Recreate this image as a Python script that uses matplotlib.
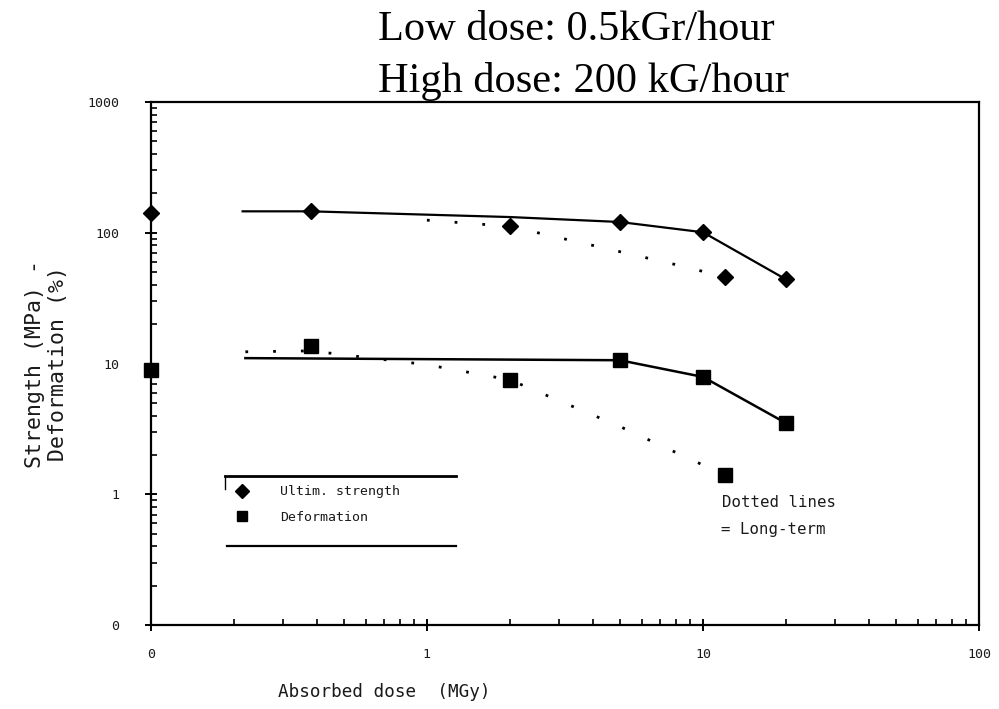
import matplotlib
matplotlib.use("Agg")
import matplotlib.pyplot as plt
from matplotlib.lines import Line2D
from matplotlib.ticker import FixedLocator, LogLocator, NullFormatter

# measured points (dose in MGy)
dose = [0.1, 0.38, 2, 5, 10, 12, 20]
strength = [142, 147, 112, 121, 101, 46, 44]
deformation = [8.9, 13.6, 7.5, 10.6, 7.9, 1.4, 3.5]

# hand drawn trend lines
strength_fit_x = [0.215, 0.38, 2, 5, 10, 20]
strength_fit_y = [146, 146, 132, 121, 101, 44]
strength_long_x = [1, 2, 4, 8, 12]
strength_long_y = [125, 112, 80, 57, 46]

deform_fit_x = [0.22, 5, 10, 20]
deform_fit_y = [11.0, 10.6, 7.9, 3.5]
deform_long_x = [0.22, 0.38, 1, 2, 5, 12]
deform_long_y = [12.3, 12.5, 9.8, 7.5, 3.3, 1.4]

xticks = [0.1, 1, 10, 100]
xticklabels = ["0", "1", "10", "100"]
yticks = [0.1, 1, 10, 100, 1000]
yticklabels = ["0", "1", "10", "100", "1000"]

mono = "DejaVu Sans Mono"
ink = "#1a1a1a"

fig = plt.figure(figsize=(9.99, 7.09), dpi=100)
ax = fig.add_axes([0.151, 0.1185, 0.829, 0.7375])
ax.set_xscale("log")
ax.set_yscale("log")
ax.set_xlim(0.1, 100)
ax.set_ylim(0.1, 1000)

ax.plot(strength_fit_x, strength_fit_y, color="black", lw=1.6)
ax.plot(strength_long_x, strength_long_y, color="black", lw=2,
        linestyle=(0, (1, 9)))
ax.plot(deform_fit_x, deform_fit_y, color="black", lw=1.8)
ax.plot(deform_long_x, deform_long_y, color="black", lw=2,
        linestyle=(0, (1, 9)))

ax.plot(dose, strength, linestyle="none", marker="D", ms=8, color="black",
        clip_on=False, zorder=5)
ax.plot(dose, deformation, linestyle="none", marker="s", ms=10, color="black",
        clip_on=False, zorder=5)

for s in ax.spines.values():
    s.set_linewidth(1.6)
    s.set_color("black")

ax.xaxis.set_major_locator(FixedLocator(xticks))
ax.set_xticklabels(xticklabels)
ax.yaxis.set_major_locator(FixedLocator(yticks))
ax.set_yticklabels(yticklabels)
ax.xaxis.set_minor_locator(LogLocator(base=10, subs=range(2, 10)))
ax.yaxis.set_minor_locator(LogLocator(base=10, subs=range(2, 10)))
ax.xaxis.set_minor_formatter(NullFormatter())
ax.yaxis.set_minor_formatter(NullFormatter())
ax.tick_params(which="major", direction="inout", length=9, width=1.4,
               labelsize=9.5, labelcolor=ink, top=False, right=False)
ax.tick_params(axis="y", which="major", pad=18)
ax.tick_params(axis="x", which="major", pad=12)
ax.tick_params(which="minor", direction="in", length=4, width=1.2,
               top=False, right=False)
for lab in ax.get_xticklabels() + ax.get_yticklabels():
    lab.set_family(mono)

ax.set_ylabel("Strength (MPa) -\nDeformation (%)", family=mono, fontsize=15.5,
              color=ink, linespacing=1.2)
ax.yaxis.set_label_coords(-0.1, 0.5)
fig.text(0.385, 0.024, "Absorbed dose  (MGy)", family=mono, fontsize=12.7,
         color=ink, ha="center", va="center")

# legend box
handles = [
    Line2D([], [], linestyle="none", marker="D", ms=7, color="black"),
    Line2D([], [], linestyle="none", marker="s", ms=7, color="black"),
]
leg = ax.legend(handles, ["Ultim. strength", "Deformation"],
                loc="upper left", bbox_to_anchor=(0.08, 0.29),
                frameon=False, handletextpad=1.9, labelspacing=0.95,
                prop={"family": mono, "size": 9.5})
for t in leg.get_texts():
    t.set_color(ink)
ax.plot([0.09, 0.368], [0.285, 0.285], transform=ax.transAxes,
        color="black", lw=2)
ax.plot([0.09, 0.09], [0.285, 0.26], transform=ax.transAxes,
        color="black", lw=1)
ax.plot([0.092, 0.368], [0.151, 0.151], transform=ax.transAxes,
        color="black", lw=1.6)

ax.text(0.69, 0.235, "Dotted lines", transform=ax.transAxes, family=mono,
        fontsize=11.3, color=ink, va="center")
ax.text(0.688, 0.183, "= Long-term", transform=ax.transAxes, family=mono,
        fontsize=11.3, color=ink, va="center")

fig.text(0.378, 0.958, "Low dose: 0.5kGr/hour", family="Liberation Serif",
         fontsize=30.5, ha="left", va="center")
fig.text(0.378, 0.885, "High dose: 200 kG/hour", family="Liberation Serif",
         fontsize=30.5, ha="left", va="center")

fig.savefig("out.png", dpi=100)
